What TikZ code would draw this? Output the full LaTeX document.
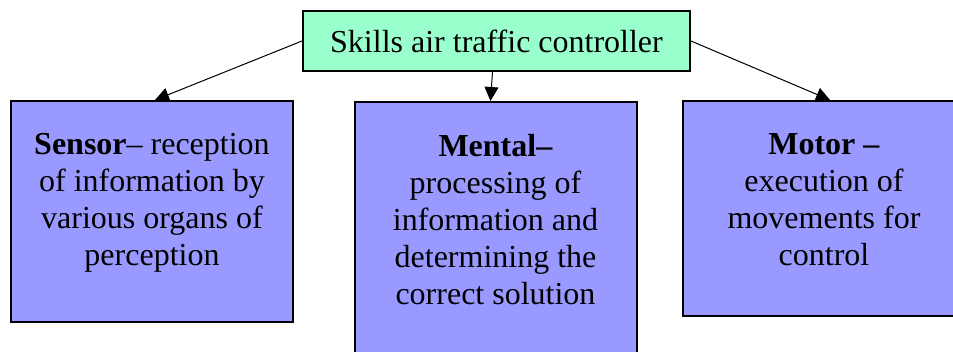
\documentclass[tikz,border=0pt]{standalone}
\usepackage{fontspec}
\setmainfont{Liberation Serif}
\usepackage{xcolor}
\usetikzlibrary{positioning, arrows.meta, calc}
\definecolor{mint}{HTML}{99FFCC}
\definecolor{lavender}{HTML}{9999FF}

\begin{document}
\begin{tikzpicture}[
    x=1pt, y=-1pt,
    big/.style={font=\fontsize{32}{37}\selectfont},
    title/.style={draw, line width=2pt, fill=mint, minimum width=387pt, minimum height=60pt, inner sep=0pt, big},
    box/.style={draw, line width=2pt, fill=lavender, minimum width=282pt, inner sep=0pt},
    txt/.style={align=center, inner sep=0pt, anchor=north, big},
    arr/.style={-{Triangle[length=14pt, width=14pt]}, line width=1pt}
]
\clip (0,0) rectangle (953,351);
% Skills box on top
\node[title] (skills) at (496.5, 41) {Skills air traffic controller};
% Three skill groups below, the outer two run off the page
\node[box, minimum height=221pt] (sensor) at (152, 211.5) {};
\node[box, minimum height=270pt] (mental) at (495.5, 237) {};
\node[box, minimum height=215pt] (motor) at (824, 208.5) {};
% Texts hang from the top edge of each box
\node[txt] (sensortext) at ([yshift=-33pt]sensor.north) {\textbf{Sensor}– reception\\of information by\\various organs of\\perception};
\node[txt] (mentaltext) at ([yshift=-33pt]mental.north) {\textbf{Mental–}\\processing of\\information and\\determining the\\correct solution};
\node[txt] (motortext) at ([yshift=-33pt]motor.north) {\textbf{Motor –}\\execution of\\movements for\\control};
% Arrows from the skills box
\draw[arr] (skills.west) -- ([xshift=3pt]sensor.north);
\draw[arr] ([xshift=-4pt]skills.south) -- ([xshift=-5pt]mental.north);
\draw[arr] (skills.east) -- ([xshift=6pt]motor.north);
\end{tikzpicture}
\end{document}
